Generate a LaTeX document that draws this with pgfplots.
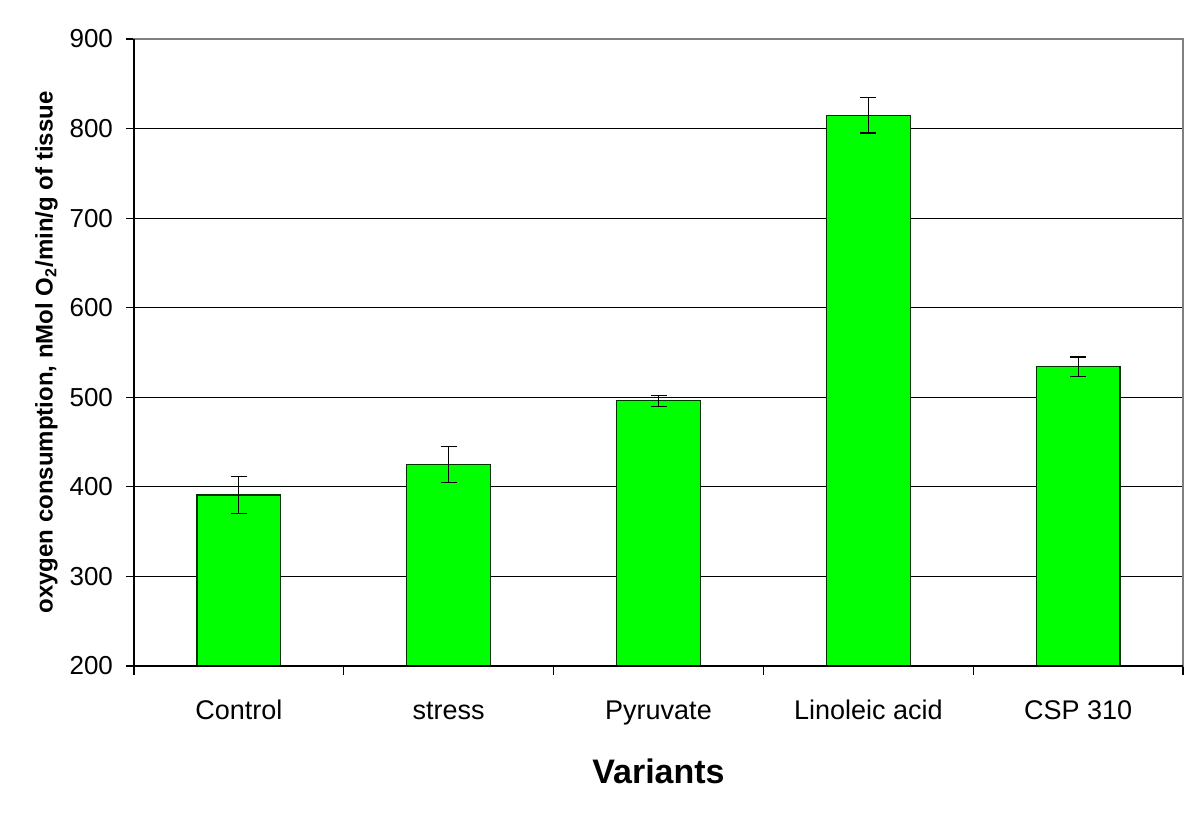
\documentclass[border=0pt]{standalone}
\usepackage{pgfplots}
\pgfplotsset{compat=1.18}
\usepackage{fontspec}
\setmainfont{Liberation Sans}
\usetikzlibrary{calc}
\definecolor{bargreen}{RGB}{0,255,0}
\definecolor{framegray}{RGB}{128,128,128}

\begin{document}
\begin{tikzpicture}
\begin{axis}[
    name=ax,
    scale only axis,
    width=524.5pt, height=313.5pt,
    xmin=-0.5, xmax=4.5,
    ymin=200, ymax=900,
    ytick={200,300,...,900},
    xtick={0,1,2,3,4},
    xticklabels={Control, stress, Pyruvate, Linoleic acid, CSP 310},
    minor xtick={-0.5,0.5,1.5,2.5,3.5,4.5},
    major x tick style={draw=none},
    tick align=outside,
    tick pos=left,
    major tick length=4pt,
    minor tick length=4.5pt,
    every tick/.style={black, line width=0.6pt},
    ymajorgrids,
    grid style={black, line width=0.6pt},
    axis line style={framegray, line width=0.7pt},
    ticklabel style={font=\fontsize{13}{15}\selectfont},
    xticklabel style={font=\fontsize{13.5}{15}\selectfont, text height=10pt, text depth=3pt, yshift=-9pt},
    yticklabel style={xshift=-3pt},
    /pgf/number format/assume math mode=true,
    xlabel={\bfseries Variants},
    xlabel style={font=\fontsize{17}{20}\selectfont, yshift=-10pt},
    ylabel={\bfseries oxygen consumption, nMol O\textsubscript{2}/min/g of tissue},
    ylabel style={font=\fontsize{12}{14}\selectfont, yshift=-1pt},
    clip=false,
]
\addplot[ybar, bar width=0.4, fill=bargreen, draw=black!80!green, line width=0.6pt,
    error bars/.cd, y dir=both, y explicit,
    error bar style={black, line width=0.6pt},
    error mark options={rotate=90, mark size=4pt, line width=0.6pt, black}]
    coordinates {
    (0,391) +- (0,21)
    (1,425) +- (0,20)
    (2,496) +- (0,6)
    (3,815) +- (0,20)
    (4,534) +- (0,11)
};
\draw[black, line width=0.7pt] (rel axis cs:0,1) -- (rel axis cs:0,0) -- (rel axis cs:1,0);
\end{axis}
\path ($(ax.south west)+(-67pt,-75.5pt)$) rectangle ($(ax.north east)+(8.5pt,19.5pt)$);
\end{tikzpicture}
\end{document}
